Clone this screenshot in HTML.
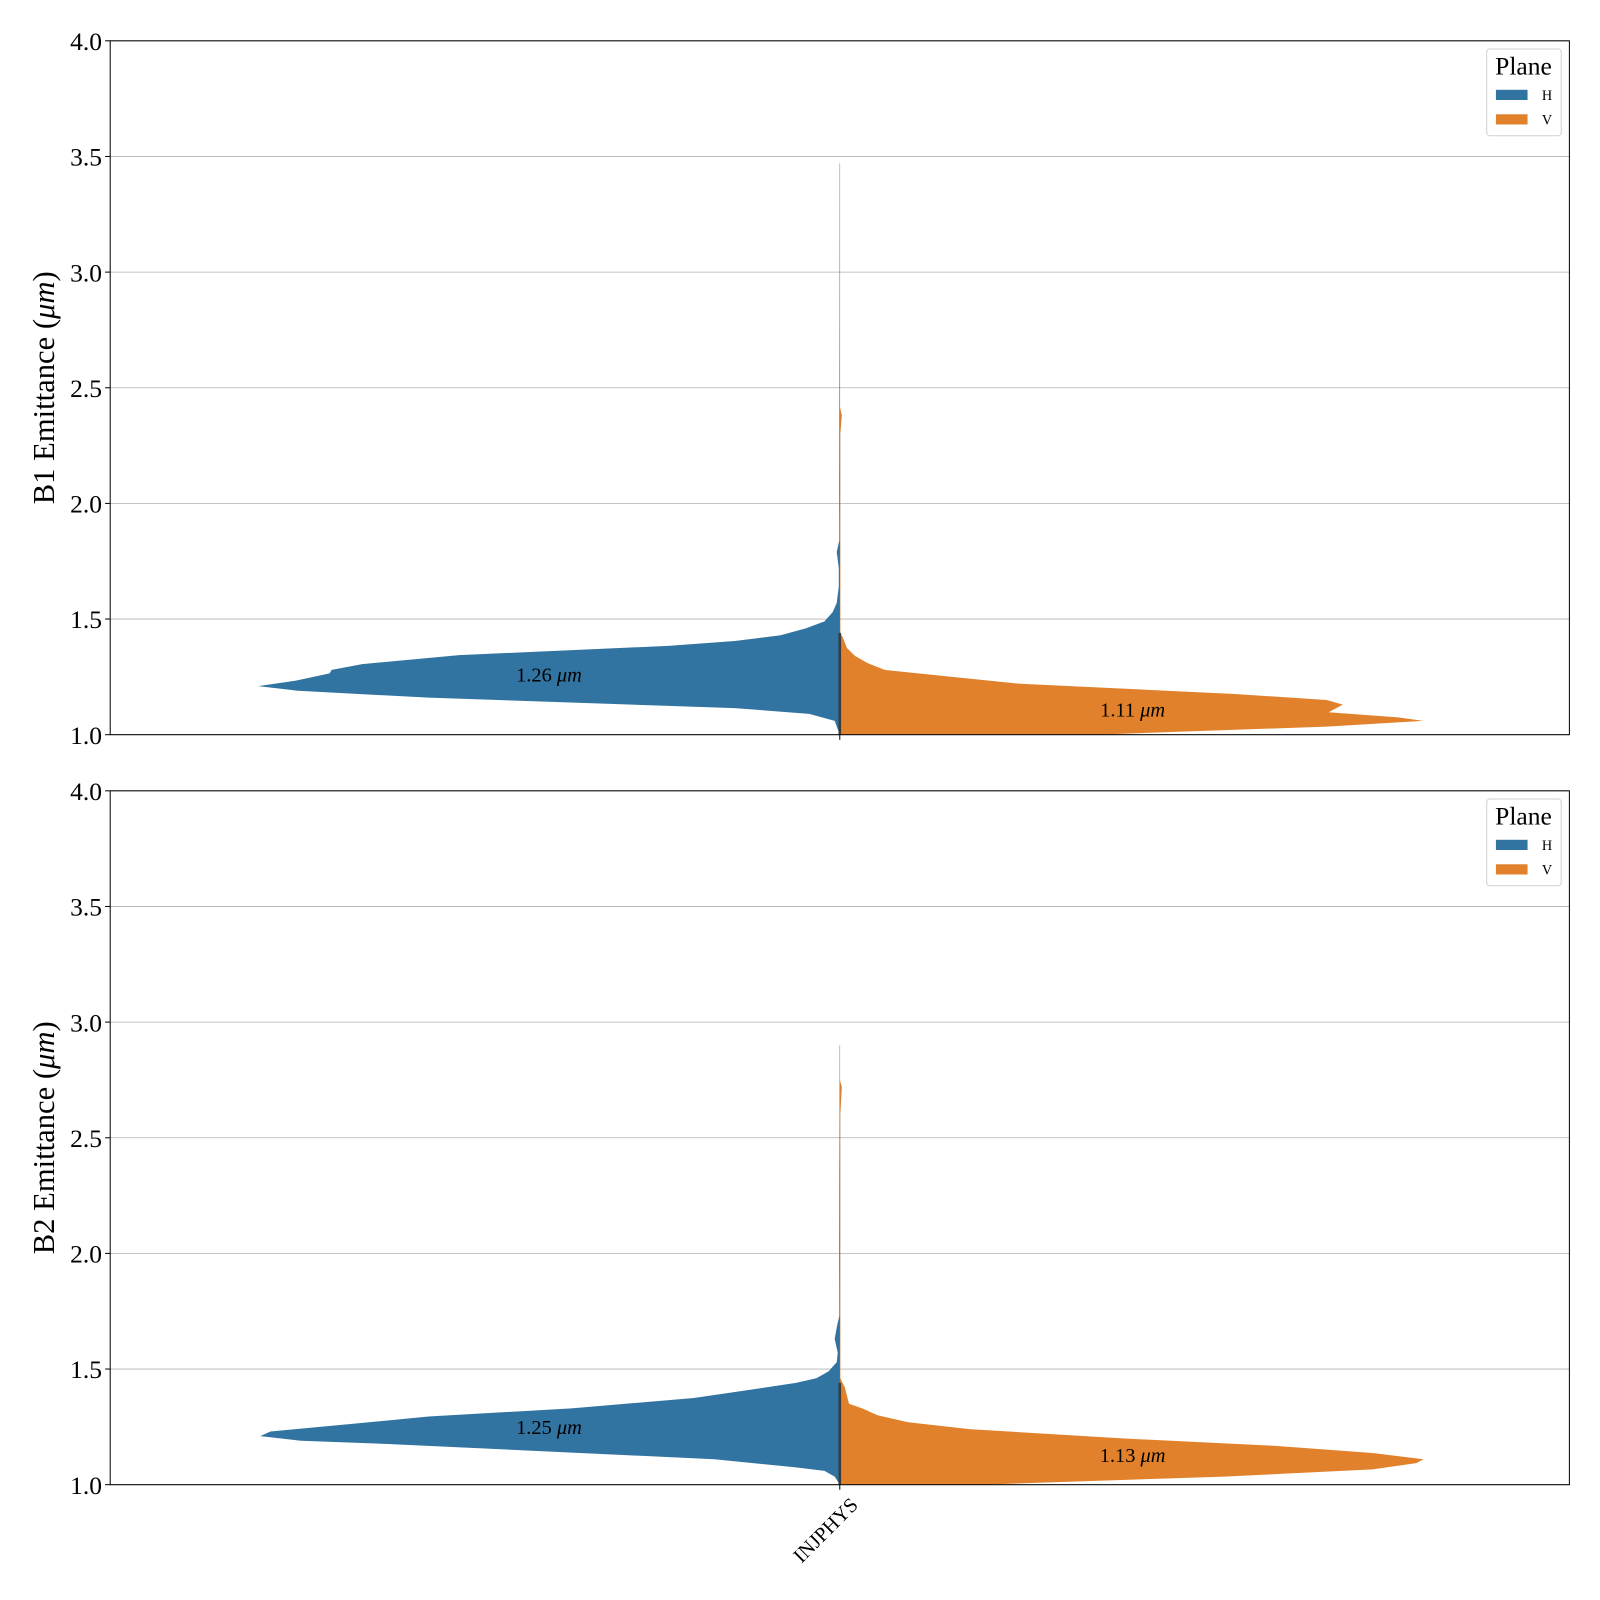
<!DOCTYPE html>
<html><head><meta charset="utf-8"><style>
html,body{margin:0;padding:0;background:#fff}
svg{display:block;font-family:"Liberation Serif",serif}
</style></head><body>
<svg id="chart" width="1600" height="1600" viewBox="0 0 1568 1568" xmlns="http://www.w3.org/2000/svg"></svg>
<script>
// Data: [emittance value (um), density width (0..570 scale)]
const b1H = [[1.0,0],[1.06,5],[1.09,30],[1.115,103],[1.16,403],[1.19,531],[1.21,570],[1.234,533],[1.265,500],[1.28,498],[1.305,468],[1.344,373],[1.384,168],[1.405,103],[1.43,58],[1.46,33],[1.49,15],[1.53,7],[1.57,3],[1.64,1],[1.72,1],[1.79,3],[1.84,0.5],[2.05,0.6],[3.47,0]];
const b1V = [[0.97,0],[1.0,250],[1.035,477],[1.06,572],[1.075,547],[1.097,479],[1.13,493],[1.15,477],[1.176,387],[1.22,177],[1.256,97],[1.28,44],[1.31,27],[1.34,15],[1.375,7],[1.42,3],[1.44,0.5],[2.3,0.5],[2.38,2],[2.42,0]];
const b2H = [[1.0,0],[1.035,5],[1.06,15],[1.075,43],[1.11,123],[1.176,443],[1.19,528],[1.21,568],[1.23,558],[1.265,473],[1.295,403],[1.33,263],[1.375,143],[1.42,73],[1.44,43],[1.46,23],[1.49,11],[1.53,3],[1.57,2],[1.63,5],[1.68,3],[1.73,0.5],[2.0,0.6],[2.3,0.5],[2.9,0]];
const b2V = [[0.98,0],[1.0,137],[1.035,377],[1.066,522],[1.093,565],[1.11,572],[1.137,522],[1.168,427],[1.2,277],[1.24,127],[1.27,67],[1.3,37],[1.33,22],[1.35,9],[1.42,5],[1.46,0.5],[2.6,0.5],[2.72,2],[2.75,0]];
const medians = [[1.26,1.11],[1.25,1.13]];
const yTicks = [1.0,1.5,2.0,2.5,3.0,3.5,4.0];
const categories = ["INJPHYS"];
const panelLabels = ["B1 Emittance (","B2 Emittance ("];
const legendLabels = ["H","V"];

const NS="http://www.w3.org/2000/svg";
const svg=document.getElementById('chart');
function el(t,a,p){const e=document.createElementNS(NS,t);for(const k in a)e.setAttribute(k,a[k]);(p||svg).appendChild(e);return e;}
const L=108,R=1538,C=823,Y0=1,Y1=4,W=1;
const panels=[{top:40,bot:720,H:b1H,V:b1V},{top:775,bot:1455,H:b2H,V:b2V}];
const COLH="#3274a1",COLV="#e1812c";
panels.forEach((p,i)=>{
  const y=v=>p.bot-(v-Y0)/(Y1-Y0)*(p.bot-p.top);
  const xs=w=>w*W;
  const g=el('g',{});
  
  
  el('clipPath',{id:'clip'+i},g);
  el('rect',{x:L,y:p.top,width:R-L,height:p.bot-p.top},g.lastChild);
  yTicks.forEach(t=>{
    const gl=el('line',{x1:L,x2:R,y1:y(t),y2:y(t),stroke:'#b0b0b0','stroke-width':0.8},g);
    
    
    el('line',{x1:L-5,x2:L,y1:y(t),y2:y(t),stroke:'#000','stroke-width':1},g);
    const tl=el('text',{x:L-8,y:y(t)+9,'text-anchor':'end','font-size':25},g);
    tl.textContent=t.toFixed(1);
    
    
  });
  const vg=el('g',{'clip-path':'url(#clip'+i+')'},g);
  let d='M'+C+','+y(p.H[0][0]);
  p.H.forEach(q=>{d+=' L'+(C-xs(q[1]))+','+y(q[0]);});
  d+=' L'+C+','+y(p.H[p.H.length-1][0])+'Z';
  const ph=el('path',{d:d,fill:COLH},vg);
  
  
  d='M'+C+','+y(p.V[0][0]);
  p.V.forEach(q=>{d+=' L'+(C+xs(q[1]))+','+y(q[0]);});
  d+=' L'+C+','+y(p.V[p.V.length-1][0])+'Z';
  const pv=el('path',{d:d,fill:COLV},vg);
  
  
  el('line',{x1:C,x2:C,y1:y(1),y2:y(p.H[p.H.length-1][0]),stroke:'#555','stroke-width':0.6,opacity:0.6},vg);
  el('line',{x1:C,x2:C,y1:y(1),y2:y(1.44),stroke:'#3a3a3a','stroke-width':2.5},vg);
  const m=medians[i];
  const t1=el('text',{x:C-285,y:y(m[0])+7,'text-anchor':'middle','font-size':20},g);
  t1.innerHTML=m[0].toFixed(2)+' <tspan font-style="italic">μm</tspan>';
  
  
  const t2=el('text',{x:C+287,y:y(m[1])+7,'text-anchor':'middle','font-size':20},g);
  t2.innerHTML=m[1].toFixed(2)+' <tspan font-style="italic">μm</tspan>';
  
  
  el('rect',{x:L,y:p.top,width:R-L,height:p.bot-p.top,fill:'none',stroke:'#000','stroke-width':1},g);
  el('line',{x1:C,x2:C,y1:p.bot,y2:p.bot+5,stroke:'#000','stroke-width':1},g);
  const yl=el('text',{x:0,y:0,'text-anchor':'middle','font-size':30,transform:'translate(53,'+((p.top+p.bot)/2)+') rotate(-90)'},g);
  yl.innerHTML=panelLabels[i]+'<tspan font-style="italic">μm</tspan>)';
  
  
  const lg=el('g',{},g);
  
  
  const ly=p.top+8;
  el('rect',{x:1457,y:ly,width:73,height:85,rx:3,fill:'#fff',stroke:'#d0d0d0','stroke-width':1},lg);
  const lt=el('text',{x:1493,y:ly+25,'text-anchor':'middle','font-size':25},lg);
  lt.textContent='Plane';
  
  
  [COLH,COLV].forEach((c,j)=>{
    const e=el('g',{},lg);
    
    
    el('rect',{x:1466,y:ly+40+j*24,width:31,height:10,fill:c},e);
    const tx=el('text',{x:1511,y:ly+50+j*24,'font-size':14},e);
    tx.textContent=legendLabels[j];
  });
});
const xl=el('text',{x:0,y:0,'text-anchor':'end','font-size':20,transform:'translate(842,1476) rotate(-45)'});
xl.textContent=categories[0];


</script>
</body></html>
